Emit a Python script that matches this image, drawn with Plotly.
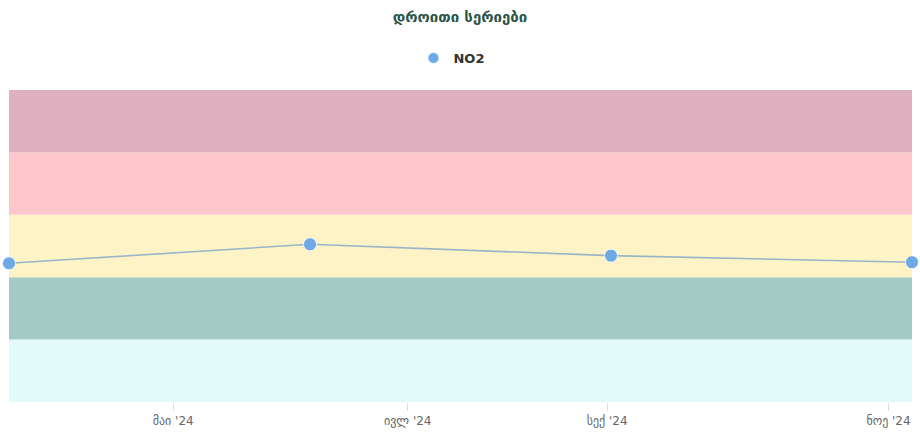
import plotly.graph_objects as go

# NO2 time series
dates = ["2024-04-10", "2024-06-26", "2024-09-11", "2024-11-27"]
no2 = [88.9, 101.1, 93.8, 89.6]
series_name = "NO2"

# Month ticks
tick_dates = ["2024-05-22", "2024-07-21", "2024-09-10", "2024-11-21"]
tick_labels = ["მაი '24", "ივლ '24", "სექ '24", "ნოე '24"]

# Air-quality bands (lower, upper) and their fills
band_edges = [0, 40, 80, 120, 160, 200]
band_colors = ["#e2fafa", "#a4cbc3", "#fdf3c6", "#ffc7cc", "#dfb0c0"]

title_text = "დროითი სერიები"

fig = go.Figure()

# connecting line (kept out of the legend)
fig.add_trace(go.Scatter(
    x=dates,
    y=no2,
    mode="lines",
    line=dict(color="rgba(118,160,200,0.75)", width=1.6),
    showlegend=False,
    hoverinfo="skip",
))

# point markers, which carry the legend entry
fig.add_trace(go.Scatter(
    x=dates,
    y=no2,
    name=series_name,
    mode="markers",
    marker=dict(size=13, color="#6ea9e6", line=dict(color="rgba(255,255,255,0.8)", width=1)),
    cliponaxis=False,
))

for lo, hi, col in zip(band_edges[:-1], band_edges[1:], band_colors):
    fig.add_shape(
        type="rect", xref="paper", yref="y",
        x0=0, x1=1, y0=lo, y1=hi,
        fillcolor=col, line=dict(width=0), layer="below",
    )

fig.update_layout(
    width=920, height=433,
    margin=dict(l=9, r=8, t=90, b=31, autoexpand=False),
    paper_bgcolor="white",
    plot_bgcolor="white",
    font=dict(family="DejaVu Sans, Noto Sans, sans-serif", color="#666666"),
    title=dict(
        text=title_text,
        x=0.5, xanchor="center",
        y=1 - 17 / 433, yanchor="middle", yref="container",
        font=dict(size=15, color="#2b5449", family="DejaVu Sans", weight="bold"),
    ),
    legend=dict(
        orientation="h",
        x=0.49, xanchor="center",
        y=1 - 43 / 433, yanchor="top", yref="container",
        font=dict(size=13, color="#333333", family="DejaVu Sans", weight="bold"),
        itemsizing="constant",
        itemwidth=30,
    ),
    xaxis=dict(
        type="date",
        range=[dates[0], dates[-1]],
        tickvals=tick_dates,
        ticktext=tick_labels,
        ticks="outside", ticklen=8, tickcolor="#d8dee8", tickwidth=1,
        showgrid=False, zeroline=False, showline=False,
        automargin=False,
        tickfont=dict(size=12, color="#666666", family="DejaVu Sans"),
    ),
    yaxis=dict(
        range=[band_edges[0], band_edges[-1]],
        showgrid=False, zeroline=False, showline=False,
        showticklabels=False, ticks="", automargin=False,
    ),
    showlegend=True,
)

fig.write_html("out.html")
